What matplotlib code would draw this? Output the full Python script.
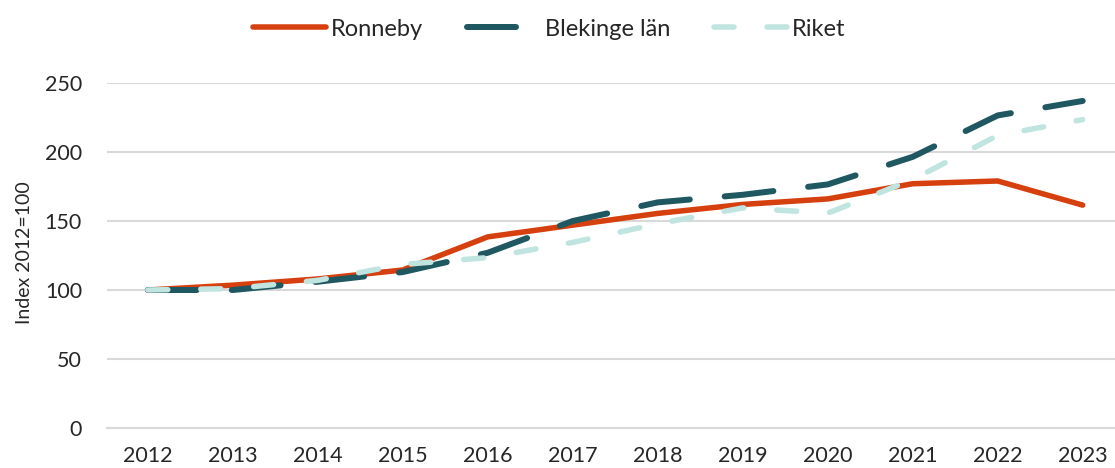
import matplotlib
matplotlib.use("Agg")
import matplotlib.pyplot as plt

years = ["2012", "2013", "2014", "2015", "2016", "2017", "2018", "2019", "2020", "2021", "2022", "2023"]
ronneby = [100, 103.5, 108, 114.5, 138.5, 147, 155.5, 162, 166, 177, 179, 161.5]
blekinge = [100, 100, 106, 113, 127, 150, 163.5, 169, 176.5, 196.5, 226.5, 237]
riket = [100, 101, 107, 118.5, 123.5, 134.5, 148, 159.5, 155.7, 180, 212, 223.5]
yticks = [0, 50, 100, 150, 200, 250]

plt.rcParams['font.family'] = ['Lato', 'DejaVu Sans']
TXT = '#262626'

fig = plt.figure(figsize=(11.15, 4.68), dpi=100)
ax = fig.add_axes([107/1115, 1-428/468, 1-107/1115, (428-83)/468])

x = list(range(len(years)))
px = 72/100  # points per pixel

lw_r = 5.5*px
lw_b = 6*px
lw_k = 5.5*px
l1, = ax.plot(x, ronneby, color='#D5400E', lw=lw_r, solid_capstyle='round', solid_joinstyle='miter', label='Ronneby', zorder=3)
l2, = ax.plot(x, blekinge, color='#1F5860', lw=lw_b, dash_capstyle='round', label='Blekinge län', zorder=4)
l2.set_dashes((49*px/lw_b, 35*px/lw_b))
l3, = ax.plot(x, riket, color='#C0E4DF', lw=lw_k, dash_capstyle='round', label='Riket', zorder=5)
l3.set_dashes((20*px/lw_k, 33*px/lw_k))
for l in (l1, l2, l3):
    l.set_clip_on(False)

ax.set_xlim(-0.48, 11.38)
ax.set_ylim(0, 250)
ax.set_xticks(x)
ax.set_xticklabels(years)
ax.set_yticks(yticks)
ax.grid(axis='y', color='#D9D9D9', lw=1.5)
ax.set_axisbelow(True)
for s in ['top', 'right', 'left']:
    ax.spines[s].set_visible(False)
ax.spines['bottom'].set_color('#D9D9D9')
ax.spines['bottom'].set_linewidth(1.5)
ax.tick_params(axis='both', length=0, labelsize=15.5, labelcolor=TXT)
ax.tick_params(axis='x', pad=13)
ax.tick_params(axis='y', pad=18)
ax.set_ylabel('Index 2012=100', fontsize=14, color=TXT)
ax.yaxis.set_label_coords(-0.073, 0.507)

leg = fig.legend(handles=[l1, l2, l3], loc='center', bbox_to_anchor=(0.4924, 0.938), ncol=3,
                 frameon=False, fontsize=17, handlelength=3.1, columnspacing=1.85, handletextpad=0.21)
for t in leg.get_texts():
    t.set_color(TXT)

fig.savefig('out.png', dpi=100)
